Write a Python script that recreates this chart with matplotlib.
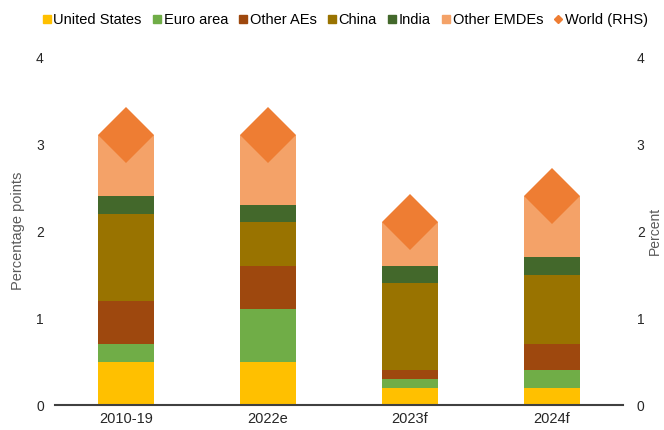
import matplotlib
matplotlib.use("Agg")
import matplotlib.pyplot as plt
from matplotlib.lines import Line2D
import numpy as np

plt.rcParams['font.family'] = ['Liberation Sans', 'DejaVu Sans']

categories = ["2010-19", "2022e", "2023f", "2024f"]
united_states = [0.5, 0.5, 0.2, 0.2]
euro_area = [0.2, 0.6, 0.1, 0.2]
other_aes = [0.5, 0.5, 0.1, 0.3]
china = [1.0, 0.5, 1.0, 0.8]
india = [0.2, 0.2, 0.2, 0.2]
other_emdes = [0.7, 0.8, 0.5, 0.7]
world = [3.1, 3.1, 2.1, 2.4]

series_names = ["United States", "Euro area", "Other AEs", "China", "India", "Other EMDEs"]
series_values = [united_states, euro_area, other_aes, china, india, other_emdes]
colors = ["#FFC000", "#70AD47", "#9E480E", "#997300", "#43682B", "#F4A268"]
world_color = "#EE7D33"

fig = plt.figure(figsize=(6.64, 4.30), dpi=100)
ax = fig.add_axes([0.0828, 0.0581, 0.8554, 0.8093])
x = np.arange(len(categories))

bottom = np.zeros(len(categories))
for name, vals, c in zip(series_names, series_values, colors):
    ax.bar(x, vals, width=0.4, bottom=bottom, color=c, label=name, zorder=2)
    bottom += np.array(vals)

ax.set_xlim(-0.5, len(categories) - 0.5)
ax.set_ylim(0, 4)
ax.set_yticks([0, 1, 2, 3, 4])
ax.set_xticks(x)
ax.set_xticklabels(categories)
for s in ["top", "left", "right"]:
    ax.spines[s].set_visible(False)
ax.spines["bottom"].set_color("#404040")
ax.spines["bottom"].set_linewidth(1.5)
ax.tick_params(axis="both", length=0, colors="#262626")
ax.tick_params(axis="x", labelsize=10.5, pad=5)
ax.tick_params(axis="y", labelsize=10, pad=8)
ax.set_ylabel("Percentage points", fontsize=10.5, color="#595959", labelpad=8)

ax2 = ax.twinx()
ax2.plot(x, world, linestyle="none", marker="D", ms=29, color=world_color,
         markeredgewidth=0, zorder=3)
ax2.set_ylim(0, 4)
ax2.set_yticks([0, 1, 2, 3, 4])
for s in ["top", "left", "right", "bottom"]:
    ax2.spines[s].set_visible(False)
ax2.tick_params(axis="y", length=0, labelsize=10, pad=10, colors="#262626")
ax2.set_ylabel("Percent", fontsize=10, color="#595959", labelpad=2)

handles = [Line2D([], [], linestyle="none", marker="s", ms=5.5, color=c) for c in colors]
handles.append(Line2D([], [], linestyle="none", marker="D", ms=4.5, color=world_color))
labels = series_names + ["World (RHS)"]
fig.legend(handles, labels, loc="upper center", bbox_to_anchor=(0.52, 1.0), ncol=7,
           frameon=False, fontsize=10.5, handlelength=0.6, handletextpad=0.15,
           columnspacing=0.75, borderaxespad=0.5)

fig.savefig("out.png", dpi=100)
